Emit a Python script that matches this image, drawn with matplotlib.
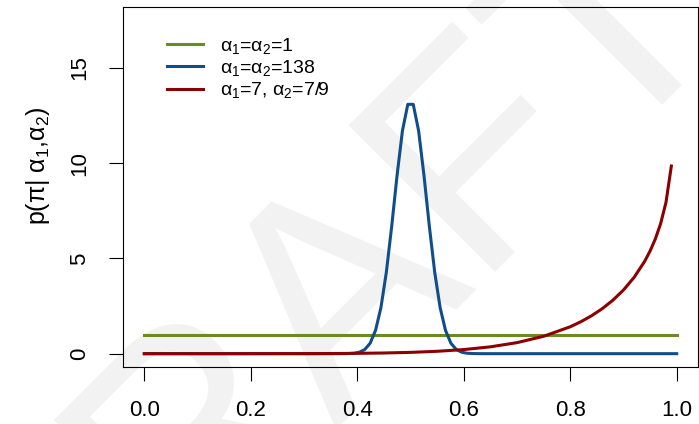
import matplotlib
matplotlib.use("Agg")
import matplotlib.pyplot as plt

plt.rcParams['font.family'] = ['Liberation Sans', 'DejaVu Sans']
plt.rcParams['mathtext.fontset'] = 'custom'
plt.rcParams['mathtext.rm'] = 'Liberation Sans'
plt.rcParams['mathtext.it'] = 'Liberation Sans'
plt.rcParams['mathtext.bf'] = 'Liberation Sans:bold'

# Beta(1,1): flat
x_flat = [0.0, 1.0]
y_flat = [1.0, 1.0]

# Beta(138,138)
x_peak = [0.0, 0.3636, 0.3737, 0.3838, 0.3939, 0.4040, 0.4141, 0.4242, 0.4343,
          0.4444, 0.4545, 0.4646, 0.4747, 0.4848, 0.4949, 0.5051, 0.5152,
          0.5253, 0.5354, 0.5455, 0.5556, 0.5657, 0.5758, 0.5859, 0.5960,
          0.6061, 0.6162, 0.6263, 0.6364, 1.0]
y_peak = [0.0, 0.0, 0.002, 0.007, 0.024, 0.078, 0.220, 0.551, 1.225,
          2.419, 4.257, 6.678, 9.352, 11.70, 13.09, 13.09, 11.70,
          9.352, 6.678, 4.257, 2.419, 1.225, 0.551, 0.220, 0.078,
          0.024, 0.007, 0.002, 0.0, 0.0]

# Beta(7, 7/9): rising towards 1
x_skew = [0.0, 0.1, 0.2, 0.3, 0.35, 0.4, 0.45, 0.5, 0.55, 0.6, 0.65, 0.7,
          0.75, 0.8, 0.82, 0.84, 0.86, 0.88, 0.9, 0.92, 0.94, 0.95,
          0.9596, 0.9697, 0.9798, 0.9899]
y_skew = [0.0, 0.0, 0.0003, 0.003, 0.008, 0.017, 0.036, 0.069, 0.125, 0.216,
          0.359, 0.580, 0.913, 1.413, 1.678, 1.990, 2.361, 2.805, 3.343,
          4.008, 4.860, 5.394, 6.007, 6.818, 7.939, 9.850]

labels = [r'$\alpha_1$=$\alpha_2$=1', r'$\alpha_1$=$\alpha_2$=138',
          r'$\alpha_1$=7, $\alpha_2$=7/9']
colors = ['#698B22', '#104E8B', '#8B0000']

fig = plt.figure(figsize=(6.99, 4.24), dpi=100)
# watermark
fig.text(0.539, 0.137, 'DRAFT', fontsize=216, color='#f2f2f2', rotation=45,
         ha='center', va='baseline', rotation_mode='anchor', zorder=0)

ax = fig.add_axes([0.176, 0.1344, 0.8226, 0.8491])
ax.set_facecolor('none')
ax.set_zorder(1)

ax.plot(x_flat, y_flat, color=colors[0], lw=2.2, label=labels[0])
ax.plot(x_peak, y_peak, color=colors[1], lw=2.2, label=labels[1])
ax.plot(x_skew, y_skew, color=colors[2], lw=2.2, label=labels[2])

ax.set_xlim(-0.04, 1.04)
ax.set_ylim(-0.7, 18.2)
ax.set_xticks([0.0, 0.2, 0.4, 0.6, 0.8, 1.0])
ax.set_xticklabels(['0.0', '0.2', '0.4', '0.6', '0.8', '1.0'])
ax.set_yticks([0, 5, 10, 15])
ax.tick_params(axis='both', direction='out', length=10, width=0.8,
               labelsize=16, color='black')
ax.tick_params(axis='x', pad=13.5)
ax.tick_params(axis='y', pad=13.5)
for lab in ax.get_yticklabels():
    lab.set_rotation(90)
    lab.set_va('center')
for s in ax.spines.values():
    s.set_linewidth(0.8)

ax.set_ylabel(r'p($\pi$| $\alpha_1$,$\alpha_2$)', fontsize=18)
ax.yaxis.set_label_coords(-0.124, 0.56)

ax.legend(loc='upper left', bbox_to_anchor=(0.0626, 0.942), frameon=False,
          fontsize=14, handlelength=1.85, handletextpad=0.88,
          labelspacing=0.12, borderaxespad=0)

fig.savefig('out.png', dpi=100)
